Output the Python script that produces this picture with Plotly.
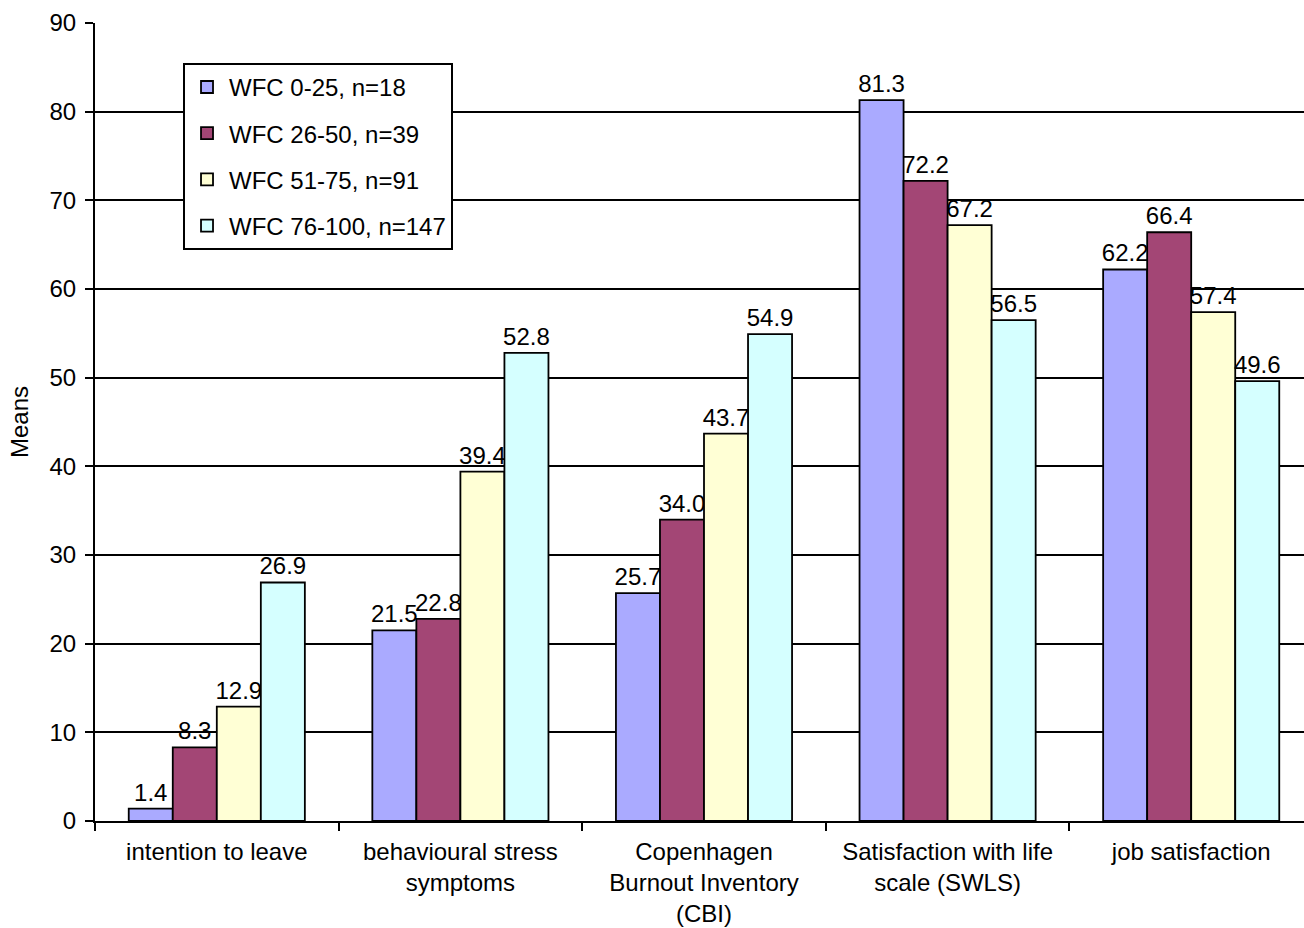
import plotly.graph_objects as go

categories = ["intention to leave", "behavioural stress<br>symptoms",
              "Copenhagen<br>Burnout Inventory<br>(CBI)", "Satisfaction with life<br>scale (SWLS)",
              "job satisfaction"]
series_names = ["WFC 0-25, n=18", "WFC 26-50, n=39", "WFC 51-75, n=91", "WFC 76-100, n=147"]
wfc_0_25 = [1.4, 21.5, 25.7, 81.3, 62.2]
wfc_26_50 = [8.3, 22.8, 34.0, 72.2, 66.4]
wfc_51_75 = [12.9, 39.4, 43.7, 67.2, 57.4]
wfc_76_100 = [26.9, 52.8, 54.9, 56.5, 49.6]
colors = ["#AAAAFF", "#A34675", "#FFFFD5", "#D5FFFF"]

FONT = "Liberation Sans, Arial, sans-serif"
fig = go.Figure()
for name, vals, col in zip(series_names, [wfc_0_25, wfc_26_50, wfc_51_75, wfc_76_100], colors):
    fig.add_trace(go.Bar(
        x=categories, y=vals, name=name, legendgroup=name,
        marker=dict(color=col, line=dict(color="black", width=1.8)),
        texttemplate="%{y:.1f}", textposition="outside", cliponaxis=False,
        constraintext="none",
        textfont=dict(size=24, color="black", family=FONT),
    ))

fig.update_layout(
    width=1304, height=928,
    margin=dict(l=95, r=0, t=23, b=107),
    paper_bgcolor="white", plot_bgcolor="white",
    barmode="group", bargap=0.277, bargroupgap=0,
    font=dict(family=FONT, size=24, color="black"),
    showlegend=True,
    legend=dict(x=0.0728, y=0.95, xanchor="left", yanchor="top",
                bgcolor="white", bordercolor="black", borderwidth=2,
                font=dict(size=24, family=FONT), tracegroupgap=12,
                itemwidth=34),
)
fig.update_xaxes(
    range=[-0.5, -0.5 + 1209 / 243.6], tickson="boundaries", ticks="outside",
    ticklen=8, tickwidth=2, tickcolor="black", showline=True, linecolor="black",
    linewidth=2, tickfont=dict(size=24), showgrid=False, ticklabelstandoff=8,
)
fig.update_yaxes(
    range=[0, 90], dtick=10, ticks="outside", ticklen=8, tickwidth=2, tickcolor="black",
    showline=True, linecolor="black", linewidth=2, showgrid=True, gridcolor="black",
    gridwidth=1.5, tickfont=dict(size=24), zeroline=False, ticklabelstandoff=4,
    title=dict(text="Means", font=dict(size=24), standoff=14),
)
fig.write_html("out.html")
